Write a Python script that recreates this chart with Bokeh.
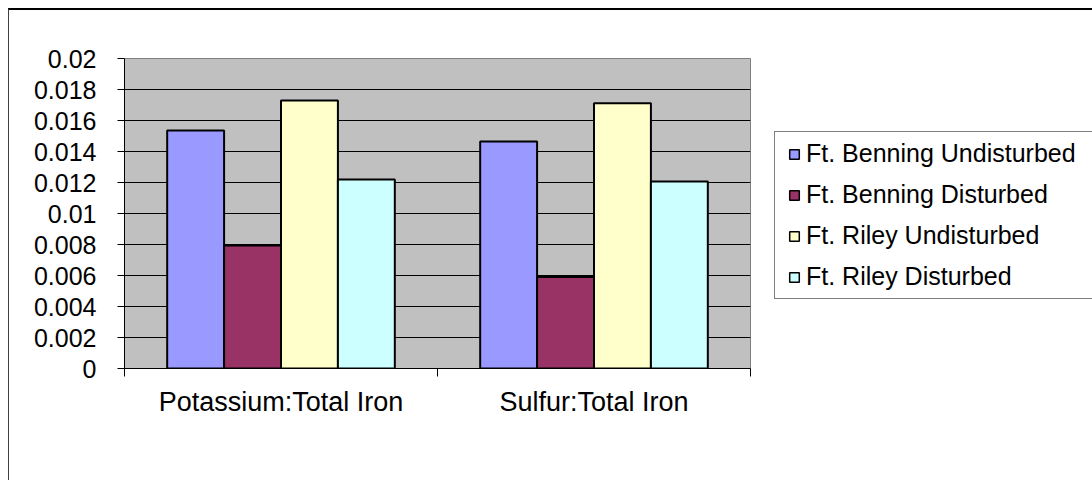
from bokeh.plotting import figure
from bokeh.models import Legend, LegendItem, FixedTicker, ColumnDataSource, Range1d
from bokeh.transform import dodge
from bokeh.embed import file_html
from bokeh.resources import INLINE

categories = ["Potassium:Total Iron", "Sulfur:Total Iron"]
series_names = ["Ft. Benning Undisturbed", "Ft. Benning Disturbed",
                "Ft. Riley Undisturbed", "Ft. Riley Disturbed"]
benning_undisturbed = [0.01535, 0.01465]
benning_disturbed = [0.00794, 0.00590]
riley_undisturbed = [0.01729, 0.01712]
riley_disturbed = [0.01220, 0.01206]
series_values = [benning_undisturbed, benning_disturbed, riley_undisturbed, riley_disturbed]
colors = ["#9999FF", "#993366", "#FFFFCC", "#CCFFFF"]
y_ticks = [0, 0.002, 0.004, 0.006, 0.008, 0.01, 0.012, 0.014, 0.016, 0.018, 0.02]
y_tick_labels = ["0", "0.002", "0.004", "0.006", "0.008", "0.01", "0.012",
                 "0.014", "0.016", "0.018", "0.02"]

FONT = "Liberation Sans"

p = figure(frame_width=626, frame_height=310, output_backend="svg", toolbar_location=None,
           x_range=Range1d(0, len(categories)), y_range=Range1d(0, 0.02),
           min_border_left=115, min_border_right=0, min_border_top=48,
           min_border_bottom=112)
p.styles = {"margin-left": "8px", "margin-top": "8px",
            "border-top": "2px solid #000000", "border-left": "1px solid #404040"}
p.background_fill_color = "#C0C0C0"
p.border_fill_color = "white"
p.outline_line_color = "#808080"
p.outline_line_width = 1
# range used only for legend swatches (maps their points outside the frame)
p.extra_y_ranges = {"swatch": Range1d(1, 2)}

cat_x = [i + 0.5 for i in range(len(categories))]
data = {"x": cat_x}
for name, vals in zip(series_names, series_values):
    data[name] = vals
src = ColumnDataSource(data)

n = len(series_names)
bw = 1.0 / (n + 1.5)
items = []
for i, (name, col) in enumerate(zip(series_names, colors)):
    off = (i - (n - 1) / 2) * bw
    p.vbar(x=dodge("x", off), top=name, width=bw, bottom=0, source=src,
           fill_color=col, line_color="black", line_width=2)
    sw = p.scatter(x=dodge("x", off), y=name, source=src, y_range_name="swatch",
                   marker="square", size=9, fill_color=col,
                   line_color="black", line_width=1.5)
    items.append(LegendItem(label=name, renderers=[sw], index=0))

# y axis
p.yaxis.ticker = FixedTicker(ticks=y_ticks)
p.yaxis.major_label_overrides = {t: l for t, l in zip(y_ticks, y_tick_labels)}
p.yaxis.major_label_text_font = FONT
p.yaxis.major_label_text_font_size = "25px"
p.yaxis.major_label_text_color = "black"
p.yaxis.major_tick_out = 7
p.yaxis.major_tick_in = 0
p.yaxis.minor_tick_out = 0
p.yaxis.minor_tick_in = 0
p.yaxis.axis_line_color = "black"
p.yaxis.major_tick_line_color = "black"
p.yaxis.major_label_standoff = 21

# x axis
p.xaxis.ticker = FixedTicker(ticks=cat_x, minor_ticks=list(range(len(categories) + 1)))
p.xaxis.major_label_overrides = {x: c for x, c in zip(cat_x, categories)}
p.xaxis.major_label_text_font = FONT
p.xaxis.major_label_text_font_size = "27px"
p.xaxis.major_label_text_color = "black"
p.xaxis.major_tick_out = 0
p.xaxis.major_tick_in = 0
p.xaxis.minor_tick_out = 8
p.xaxis.minor_tick_in = 0
p.xaxis.minor_tick_line_color = "black"
p.xaxis.axis_line_color = "black"
p.xaxis.major_label_standoff = 10

# grid
p.xgrid.visible = False
p.ygrid.ticker = FixedTicker(ticks=y_ticks[1:-1])
p.ygrid.grid_line_color = "black"
p.ygrid.grid_line_width = 1

legend = Legend(items=items, location=(24, 69))
legend.label_text_font = FONT
legend.label_text_font_size = "25px"
legend.label_text_color = "black"
legend.glyph_width = 24
legend.glyph_height = 24
legend.label_standoff = 0
legend.label_width = 279
legend.padding = 7
legend.spacing = 12
legend.margin = 12
legend.border_line_color = "black"
legend.border_line_width = 1
legend.background_fill_color = "white"
legend.background_fill_alpha = 1
p.add_layout(legend, "right")

open("out.html", "w").write(file_html(p, INLINE))
